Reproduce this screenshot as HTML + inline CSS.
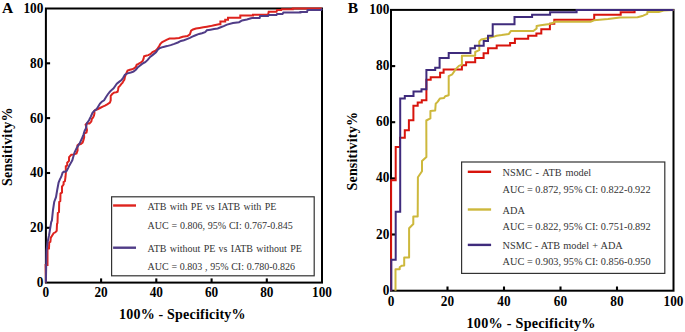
<!DOCTYPE html>
<html><head><meta charset="utf-8"><style>
html,body{margin:0;padding:0;background:#fff;}
svg{display:block;}
text{font-family:"Liberation Serif",serif;}
.tk{font-size:13.3px;font-weight:bold;fill:#000;}
.ttl{font-size:14px;font-weight:bold;fill:#000;font-variant-ligatures:none;letter-spacing:0.2px;}
.ttlb{font-size:14.2px;font-weight:bold;fill:#000;font-variant-ligatures:none;letter-spacing:0.25px;}
.pl{font-size:15.5px;font-weight:bold;fill:#000;}
.lg{font-size:10px;fill:#333;}
.lgb{font-size:10.3px;fill:#333;}
</style></head><body>
<svg width="685" height="332" viewBox="0 0 685 332">
<rect width="685" height="332" fill="#fff"/>
<!-- Panel A -->
<text x="1.9" y="12.5" class="pl">A</text>
<rect x="45.9" y="8.5" width="276.1" height="274.1" fill="none" stroke="#000" stroke-width="2"/>
<text transform="translate(45.9,296.6) scale(1,1.15)" text-anchor="middle" class="tk">0</text>
<text transform="translate(43.4,287.0) scale(1,1.15)" text-anchor="end" class="tk">0</text>
<line x1="101.1" y1="282.6" x2="101.1" y2="278.4" stroke="#000" stroke-width="2.1"/>
<line x1="45.9" y1="227.8" x2="50.1" y2="227.8" stroke="#000" stroke-width="2.1"/>
<text transform="translate(101.1,296.6) scale(1,1.15)" text-anchor="middle" class="tk">20</text>
<text transform="translate(43.4,232.2) scale(1,1.15)" text-anchor="end" class="tk">20</text>
<line x1="156.3" y1="282.6" x2="156.3" y2="278.4" stroke="#000" stroke-width="2.1"/>
<line x1="45.9" y1="173.0" x2="50.1" y2="173.0" stroke="#000" stroke-width="2.1"/>
<text transform="translate(156.3,296.6) scale(1,1.15)" text-anchor="middle" class="tk">40</text>
<text transform="translate(43.4,177.4) scale(1,1.15)" text-anchor="end" class="tk">40</text>
<line x1="211.6" y1="282.6" x2="211.6" y2="278.4" stroke="#000" stroke-width="2.1"/>
<line x1="45.9" y1="118.1" x2="50.1" y2="118.1" stroke="#000" stroke-width="2.1"/>
<text transform="translate(211.6,296.6) scale(1,1.15)" text-anchor="middle" class="tk">60</text>
<text transform="translate(43.4,122.5) scale(1,1.15)" text-anchor="end" class="tk">60</text>
<line x1="266.8" y1="282.6" x2="266.8" y2="278.4" stroke="#000" stroke-width="2.1"/>
<line x1="45.9" y1="63.3" x2="50.1" y2="63.3" stroke="#000" stroke-width="2.1"/>
<text transform="translate(266.8,296.6) scale(1,1.15)" text-anchor="middle" class="tk">80</text>
<text transform="translate(43.4,67.7) scale(1,1.15)" text-anchor="end" class="tk">80</text>
<text transform="translate(322.0,296.6) scale(1,1.15)" text-anchor="middle" class="tk">100</text>
<text transform="translate(43.4,12.9) scale(1,1.15)" text-anchor="end" class="tk">100</text>
<text x="182.4" y="318.9" text-anchor="middle" class="ttl">100% - Specificity%</text>
<text transform="translate(11.9,146.6) rotate(-90)" x="0" y="0" text-anchor="middle" class="ttl">Sensitivity%</text>
<polyline points="45.9,282.6 45.6,265.0 47.5,265.0 47.5,249.0 49.0,248.5 49.2,242.6 50.4,241.7 50.8,237.7 52.2,235.4 53.6,233.2 55.4,232.3 56.7,230.9 57.0,224.0 57.5,223.0 57.8,213.0 59.0,212.0 59.2,202.0 60.3,201.0 60.5,193.6 62.0,192.4 62.0,186.6 63.6,184.4 63.6,182.1 64.9,181.2 65.5,177.0 65.8,173.5 65.8,166.3 67.2,165.4 67.2,162.7 69.0,160.9 69.1,157.1 71.3,154.8 74.0,154.4 76.5,153.5 77.6,150.3 77.4,145.4 78.5,144.5 80.8,144.0 82.6,142.6 83.5,139.9 84.2,137.2 84.0,133.6 86.5,132.5 87.0,130.0 86.3,127.0 85.6,124.5 87.0,123.2 89.5,123.5 91.3,121.6 91.8,119.0 93.1,117.5 94.0,115.5 94.5,113.0 94.2,111.0 95.5,110.0 98.1,109.0 100.0,108.0 102.7,106.6 105.0,105.7 107.2,104.4 109.9,102.6 110.7,100.3 110.7,95.8 112.2,94.0 114.0,92.6 116.3,92.2 117.6,91.7 118.1,89.5 118.5,87.2 119.9,85.9 121.2,84.1 122.6,82.7 123.5,80.9 124.4,79.5 124.9,77.0 126.7,72.5 127.6,70.6 129.9,69.7 132.2,69.3 134.0,68.4 135.8,67.0 136.7,64.8 138.5,63.9 140.7,62.5 142.6,61.2 143.5,58.9 144.1,56.3 145.9,55.7 148.3,55.1 150.7,53.9 152.5,52.0 155.5,50.8 157.3,49.0 159.2,46.0 160.4,43.9 162.2,42.1 164.6,40.9 167.0,39.7 169.5,38.5 174.3,38.5 179.1,37.9 182.7,36.7 187.5,36.1 189.9,34.3 191.1,30.7 193.0,29.5 196.0,28.5 199.6,27.9 203.3,27.3 206.9,26.7 210.5,26.1 214.1,25.2 218.9,24.3 220.4,24.3 220.4,21.6 225.2,21.6 225.2,19.8 228.0,19.8 228.0,17.7 240.3,17.7 240.3,15.5 253.0,15.5 253.0,14.7 268.1,14.7 268.7,11.8 276.5,11.8 277.1,10.0 281.3,10.0 281.9,9.2 292.8,9.2 292.8,8.4 322.0,8.4" fill="none" stroke="#de231e" stroke-width="2"/>
<polyline points="45.9,282.6 46.3,260.0 46.5,250.8 47.7,241.7 49.0,235.4 49.7,231.3 51.2,222.0 51.9,220.4 53.0,210.0 54.2,202.0 56.0,197.2 57.2,190.0 58.6,182.6 59.9,179.4 61.3,176.7 62.6,172.6 64.0,171.6 65.4,172.0 66.7,170.8 68.1,168.1 69.4,165.4 71.2,162.3 72.3,160.3 74.5,152.6 76.7,148.1 79.5,143.6 81.7,139.0 83.5,134.5 84.6,131.0 85.9,128.4 86.8,123.4 89.0,120.3 90.8,116.6 92.6,112.6 94.5,110.8 96.7,109.0 98.1,106.7 100.0,103.5 101.8,101.7 104.1,100.3 105.9,97.2 107.7,94.5 109.9,91.7 111.7,89.9 113.6,88.4 115.2,86.0 116.8,83.7 119.1,81.9 121.5,80.0 123.3,77.5 124.9,74.7 127.6,73.4 130.8,72.5 133.5,71.6 135.8,69.7 137.6,67.5 139.8,65.7 142.1,63.9 145.2,62.2 147.7,59.9 150.1,56.9 152.5,55.1 156.0,52.2 158.0,49.5 160.0,48.0 163.4,46.9 167.0,46.1 170.7,45.1 174.3,43.9 177.9,42.5 180.9,40.9 183.9,40.3 186.9,39.1 189.9,37.9 192.3,36.7 195.0,35.5 199.0,33.9 202.0,33.3 205.1,32.1 206.9,30.3 210.5,29.7 214.1,29.1 217.7,28.5 220.7,27.3 223.7,26.1 227.0,24.6 233.0,23.1 239.1,22.2 242.1,20.4 246.9,19.5 251.1,18.3 252.4,17.9 259.6,17.9 260.2,16.0 268.1,16.0 268.7,15.1 276.5,15.1 277.1,13.9 282.5,13.9 283.4,12.6 300.4,12.6 300.4,11.9 307.0,11.9 307.6,10.1 321.1,10.1 322.0,8.5" fill="none" stroke="#503c87" stroke-width="2"/>
<rect x="111.6" y="196.8" width="202.6" height="79" fill="#fff" stroke="#333" stroke-width="1.2"/>
<line x1="113.1" y1="205.5" x2="136" y2="205.5" stroke="#de231e" stroke-width="2.4"/>
<line x1="113.1" y1="247.7" x2="136" y2="247.7" stroke="#503c87" stroke-width="2.4"/>
<text x="147.6" y="209.9" class="lg" word-spacing="0.8">ATB with PE vs IATB with PE</text>
<text x="147.6" y="228.6" class="lg" word-spacing="0.3">AUC = 0.806, 95% CI: 0.767-0.845</text>
<text x="147.6" y="251.7" class="lg" word-spacing="0.8">ATB without PE vs IATB without PE</text>
<text x="147.6" y="269.5" class="lg" word-spacing="0.2">AUC = 0.803 , 95% CI: 0.780-0.826</text>
<!-- Panel B -->
<text x="347.8" y="12.7" class="pl">B</text>
<rect x="391.0" y="9.9" width="282.5" height="280.8" fill="none" stroke="#000" stroke-width="2"/>
<text transform="translate(391.0,306.0) scale(1,1.15)" text-anchor="middle" class="tk">0</text>
<text transform="translate(389.3,294.7) scale(1,1.15)" text-anchor="end" class="tk">0</text>
<line x1="447.5" y1="290.7" x2="447.5" y2="286.5" stroke="#000" stroke-width="2.1"/>
<line x1="391.0" y1="234.5" x2="395.2" y2="234.5" stroke="#000" stroke-width="2.1"/>
<text transform="translate(447.5,306.0) scale(1,1.15)" text-anchor="middle" class="tk">20</text>
<text transform="translate(389.3,238.5) scale(1,1.15)" text-anchor="end" class="tk">20</text>
<line x1="504.0" y1="290.7" x2="504.0" y2="286.5" stroke="#000" stroke-width="2.1"/>
<line x1="391.0" y1="178.4" x2="395.2" y2="178.4" stroke="#000" stroke-width="2.1"/>
<text transform="translate(504.0,306.0) scale(1,1.15)" text-anchor="middle" class="tk">40</text>
<text transform="translate(389.3,182.4) scale(1,1.15)" text-anchor="end" class="tk">40</text>
<line x1="560.5" y1="290.7" x2="560.5" y2="286.5" stroke="#000" stroke-width="2.1"/>
<line x1="391.0" y1="122.2" x2="395.2" y2="122.2" stroke="#000" stroke-width="2.1"/>
<text transform="translate(560.5,306.0) scale(1,1.15)" text-anchor="middle" class="tk">60</text>
<text transform="translate(389.3,126.2) scale(1,1.15)" text-anchor="end" class="tk">60</text>
<line x1="617.0" y1="290.7" x2="617.0" y2="286.5" stroke="#000" stroke-width="2.1"/>
<line x1="391.0" y1="66.1" x2="395.2" y2="66.1" stroke="#000" stroke-width="2.1"/>
<text transform="translate(617.0,306.0) scale(1,1.15)" text-anchor="middle" class="tk">80</text>
<text transform="translate(389.3,70.1) scale(1,1.15)" text-anchor="end" class="tk">80</text>
<text transform="translate(673.5,306.0) scale(1,1.15)" text-anchor="middle" class="tk">100</text>
<text transform="translate(389.3,13.9) scale(1,1.15)" text-anchor="end" class="tk">100</text>
<text x="531.1" y="327.9" text-anchor="middle" class="ttlb">100% - Specificity%</text>
<text transform="translate(356.8,151.2) rotate(-90)" x="0" y="0" text-anchor="middle" class="ttl">Sensitivity%</text>
<polyline points="391.1,290.7 391.1,180.2 395.7,180.2 395.7,147.0 400.0,147.0 400.0,137.8 404.8,137.8 404.8,130.3 408.9,130.3 408.9,120.3 413.4,120.3 413.4,105.8 417.7,105.8 417.7,102.5 421.8,102.5 421.8,100.2 426.4,100.2 426.4,79.7 430.7,79.7 430.7,77.2 440.1,77.2 440.1,72.8 443.6,72.8 443.6,69.5 461.9,69.5 461.9,65.3 466.1,65.3 466.1,62.3 475.2,62.3 475.2,57.9 483.6,57.9 483.6,53.2 488.1,53.2 488.1,48.3 496.7,48.3 496.7,45.6 510.1,45.6 510.1,42.9 514.9,42.9 514.9,38.7 528.2,38.7 528.2,35.7 536.4,35.7 536.4,33.6 541.3,33.6 541.3,29.2 549.9,29.2 549.9,23.8 554.3,23.8 554.3,19.8 594.2,19.8 594.2,14.8 620.7,14.8 620.7,12.2 634.6,12.2 634.6,10.0 673.5,10.0" fill="none" stroke="#d8140c" stroke-width="2"/>
<polyline points="395.5,290.7 395.5,269.2 399.7,269.2 399.7,267.3 401.6,265.8 404.2,265.4 404.2,257.4 409.1,257.4 409.1,228.2 413.3,224.0 413.3,216.5 417.7,216.5 417.9,177.3 422.0,171.2 422.0,161.0 426.4,157.0 426.3,120.5 430.4,118.4 430.4,111.0 435.2,110.5 435.7,103.7 437.8,101.6 440.0,98.4 444.1,97.9 445.2,96.3 448.7,95.3 448.7,76.1 452.3,74.3 455.9,68.9 458.9,65.9 461.9,64.7 461.9,55.7 475.2,55.7 475.2,52.0 479.3,50.2 479.3,41.4 481.1,39.6 483.9,39.0 488.1,38.1 494.1,36.6 496.5,35.7 501.7,35.1 508.9,33.9 510.8,31.1 533.4,31.1 536.6,28.4 536.6,26.1 540.7,25.2 549.7,23.9 554.2,22.5 554.2,21.8 590.4,21.8 594.0,20.3 608.0,19.1 620.0,17.5 637.5,17.3 643.1,15.7 647.3,13.9 647.3,12.0 658.7,12.0 663.6,10.5 673.5,10.0" fill="none" stroke="#cdb83c" stroke-width="2" stroke-linejoin="round"/>
<polyline points="391.3,290.7 391.3,259.8 395.7,259.8 395.7,211.7 400.2,211.7 400.2,98.4 404.8,98.4 404.8,96.1 413.5,96.1 413.5,91.5 421.5,91.5 421.5,89.3 426.4,89.3 426.4,70.0 435.2,70.0 435.2,67.8 439.6,67.8 439.6,58.1 448.7,58.1 448.7,53.0 470.4,53.0 470.4,48.3 474.9,48.3 474.9,45.7 483.7,45.7 483.7,41.1 488.0,41.1 488.0,35.8 492.7,35.8 492.7,24.3 514.5,24.3 514.5,17.1 532.1,17.1 532.1,14.8 550.1,14.8 550.1,12.3 576.6,12.3 576.6,9.9 673.5,9.9" fill="none" stroke="#3f2b7c" stroke-width="2"/>
<rect x="461.6" y="162" width="203.2" height="111.4" fill="#fff" stroke="#333" stroke-width="1.2"/>
<line x1="467.8" y1="171.8" x2="491.1" y2="171.8" stroke="#d8140c" stroke-width="2.4"/>
<line x1="467.8" y1="209.5" x2="491.1" y2="209.5" stroke="#cdb83c" stroke-width="2.4"/>
<line x1="467.8" y1="244.9" x2="491.1" y2="244.9" stroke="#3f2b7c" stroke-width="2.4"/>
<text x="502.6" y="175.9" class="lgb" word-spacing="1.2">NSMC - ATB model</text>
<text x="502.6" y="192.5" class="lgb">AUC = 0.872, 95% CI: 0.822-0.922</text>
<text x="502.6" y="213.5" class="lgb">ADA</text>
<text x="502.6" y="229.5" class="lgb">AUC = 0.822, 95% CI: 0.751-0.892</text>
<text x="502.6" y="249.4" class="lgb" word-spacing="0.5">NSMC - ATB model + ADA</text>
<text x="502.6" y="265.4" class="lgb">AUC = 0.903, 95% CI: 0.856-0.950</text>
</svg>
</body></html>
